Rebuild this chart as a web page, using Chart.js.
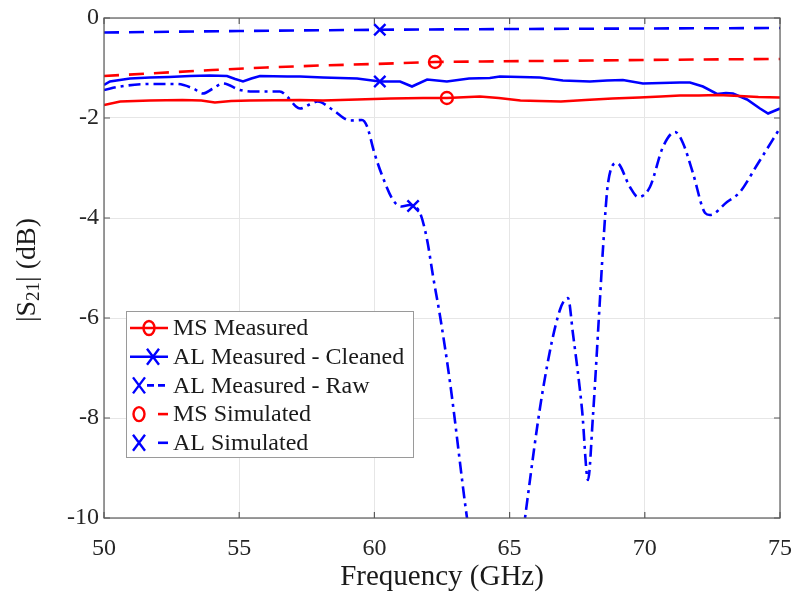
<!DOCTYPE html>
<html><head><meta charset="utf-8">
<script src="https://cdn.jsdelivr.net/npm/chart.js@4/dist/chart.umd.min.js"></script>
<style>html,body{margin:0;padding:0;background:#fff;}#wrap{width:796px;height:592px;position:relative;}</style>
</head><body><div id="wrap"><canvas id="c"></canvas></div>
<script>
// ---------- data ----------
const xTicks = [50, 55, 60, 65, 70, 75];
const yTicks = [0, -2, -4, -6, -8, -10];
const seriesNames = ['MS Measured', 'AL Measured - Cleaned', 'AL Measured - Raw', 'MS Simulated', 'AL Simulated'];

const msMeasFreq = [50, 50.6, 51.7, 52.9, 53.6, 54.1, 54.7, 55.4, 56.3, 57.25, 58.1, 59.36, 60.6, 61.8, 62.68, 63.9, 64.6, 65.4, 66.1, 66.9, 67.8, 68.8, 69.8, 70.6, 71.3, 72.0, 72.7, 73.5, 74.2, 75];
const msMeasVals = [-1.74, -1.67, -1.65, -1.64, -1.65, -1.69, -1.66, -1.65, -1.645, -1.64, -1.65, -1.63, -1.61, -1.6, -1.6, -1.57, -1.6, -1.65, -1.66, -1.67, -1.64, -1.61, -1.59, -1.57, -1.55, -1.55, -1.54, -1.56, -1.58, -1.59];
const msMeasMarker = 62.68;

const alCleanFreq = [50, 50.22, 50.96, 51.7, 52.4, 53.18, 53.92, 54.55, 54.85, 55.14, 55.45, 55.77, 56.77, 57.25, 58.1, 59.36, 60.2, 60.95, 61.39, 61.95, 62.68, 63.5, 64.27, 64.64, 65.4, 66.12, 66.97, 67.97, 68.6, 69.19, 69.93, 70.6, 71.3, 71.67, 72.15, 72.67, 73.0, 73.26, 73.78, 74.26, 74.56, 75];
const alCleanVals = [-1.34, -1.27, -1.21, -1.19, -1.18, -1.16, -1.15, -1.16, -1.22, -1.27, -1.21, -1.16, -1.17, -1.17, -1.19, -1.21, -1.27, -1.27, -1.37, -1.23, -1.27, -1.21, -1.2, -1.17, -1.18, -1.19, -1.25, -1.27, -1.25, -1.24, -1.31, -1.3, -1.29, -1.29, -1.37, -1.52, -1.5, -1.51, -1.63, -1.81, -1.91, -1.81];
const alCleanMarker = 60.2;

const alRawFreq = [50, 50.6, 51.7, 52.7, 53.3, 53.66, 54.0, 54.4, 55.03, 55.5, 56.1, 56.5, 56.77, 57.1, 57.25, 57.6, 57.9, 58.47, 59.1, 59.54, 59.73, 60.0, 60.3, 60.69, 61.0, 61.3, 61.43, 61.69, 61.95, 62.17, 62.43, 62.8, 63.42, 64.0, 64.5, 65.0, 65.57, 66.23, 66.86, 67.16, 67.34, 67.68, 67.9, 68.08, 68.34, 68.45, 68.64, 68.97, 69.45, 69.75, 70.19, 70.67, 71.12, 71.41, 71.78, 72.23, 72.41, 73.04, 73.52, 74.15, 75];
const alRawVals = [-1.44, -1.37, -1.32, -1.32, -1.41, -1.51, -1.42, -1.31, -1.44, -1.47, -1.47, -1.47, -1.57, -1.77, -1.81, -1.73, -1.67, -1.84, -2.05, -2.04, -2.17, -2.7, -3.17, -3.64, -3.77, -3.74, -3.76, -3.9, -4.44, -5.17, -5.97, -7.3, -9.98, -12, -13, -12.5, -10, -7.44, -5.84, -5.6, -6.3, -7.84, -9.24, -7.98, -5.64, -4.64, -3.3, -2.9, -3.38, -3.58, -3.38, -2.58, -2.28, -2.5, -3.1, -3.9, -3.94, -3.68, -3.48, -2.94, -2.2];
const alRawMarker = 61.43;

const msSimFreq = [50, 52, 54, 56, 58, 60, 62.24, 64, 66, 68, 70, 72, 75];
const msSimVals = [-1.16, -1.1, -1.04, -0.99, -0.95, -0.92, -0.88, -0.87, -0.86, -0.85, -0.84, -0.83, -0.82];
const msSimMarker = 62.24;

const alSimFreq = [50, 55, 60.2, 65, 70, 75];
const alSimVals = [-0.29, -0.26, -0.235, -0.22, -0.21, -0.2];
const alSimMarker = 60.2;

// ---------- styling ----------
const RED = '#ff0000', BLUE = '#0000ff';
const SERIF = '"Liberation Serif", "Times New Roman", serif';
const pts = (f, v) => f.map((x, i) => ({ x: x, y: v[i] }));
const markerAt = (m, r) => (c) => (c.raw && c.raw.x === m ? r : 0);

function ds(label, f, v, color, dash, marker, style, r, extra) {
  return Object.assign({
    label: label, data: pts(f, v), borderColor: color, borderWidth: 2.6,
    borderDash: dash, fill: false, tension: 0,
    pointStyle: style, pointRadius: markerAt(marker, r), pointHoverRadius: 0,
    pointBorderColor: color, pointBackgroundColor: 'rgba(0,0,0,0)', pointBorderWidth: 2.4
  }, extra || {});
}

const datasets = [
  ds(seriesNames[4], alSimFreq, alSimVals, BLUE, [15, 10], alSimMarker, 'crossRot', 8),
  ds(seriesNames[3], msSimFreq, msSimVals, RED, [15, 10], msSimMarker, 'circle', 6),
  ds(seriesNames[0], msMeasFreq, msMeasVals, RED, [], msMeasMarker, 'circle', 6),
  ds(seriesNames[1], alCleanFreq, alCleanVals, BLUE, [], alCleanMarker, 'crossRot', 8),
  ds(seriesNames[2], alRawFreq, alRawVals, BLUE, [12, 5, 3, 5], alRawMarker, 'crossRot', 8, { cubicInterpolationMode: 'monotone' })
];

// ---------- plugins ----------
const framePlugin = {
  id: 'frame',
  afterDatasetsDraw(chart) {
    const { ctx, chartArea: a, scales } = chart;
    ctx.save();
    ctx.strokeStyle = '#5a5a5a';
    ctx.lineWidth = 1.2;
    ctx.strokeRect(a.left, a.top, a.right - a.left, a.bottom - a.top);
    const tl = 6;
    ctx.beginPath();
    xTicks.forEach(v => {
      const px = scales.x.getPixelForValue(v);
      ctx.moveTo(px, a.bottom); ctx.lineTo(px, a.bottom - tl);
      ctx.moveTo(px, a.top); ctx.lineTo(px, a.top + tl);
    });
    yTicks.forEach(v => {
      const py = scales.y.getPixelForValue(v);
      ctx.moveTo(a.left, py); ctx.lineTo(a.left + tl, py);
      ctx.moveTo(a.right, py); ctx.lineTo(a.right - tl, py);
    });
    ctx.stroke();
    ctx.restore();
  }
};

function drawX(ctx, x, y, color) {
  ctx.save(); ctx.strokeStyle = color; ctx.lineWidth = 2.4; ctx.setLineDash([]);
  ctx.beginPath();
  ctx.moveTo(x - 6, y - 8); ctx.lineTo(x + 6, y + 8);
  ctx.moveTo(x + 6, y - 8); ctx.lineTo(x - 6, y + 8);
  ctx.stroke(); ctx.restore();
}
function drawO(ctx, x, y, color) {
  ctx.save(); ctx.strokeStyle = color; ctx.lineWidth = 2.4; ctx.setLineDash([]);
  ctx.beginPath(); ctx.ellipse(x, y, 5.5, 7, 0, 0, Math.PI * 2); ctx.stroke(); ctx.restore();
}
function seg(ctx, x1, x2, y, color, dash) {
  ctx.save(); ctx.strokeStyle = color; ctx.lineWidth = 2.6; ctx.setLineDash(dash);
  ctx.beginPath(); ctx.moveTo(x1, y); ctx.lineTo(x2, y); ctx.stroke(); ctx.restore();
}

const legendPlugin = {
  id: 'matlabLegend',
  afterDraw(chart) {
    const { ctx, chartArea: a } = chart;
    const x0 = a.left + 22, y0 = a.top + 293, w = 287, h = 146;
    ctx.save();
    ctx.fillStyle = '#ffffff';
    ctx.fillRect(x0, y0, w, h);
    ctx.strokeStyle = '#9a9a9a'; ctx.lineWidth = 1;
    ctx.strokeRect(x0 + 0.5, y0 + 0.5, w, h);
    const rowY = i => y0 + 17 + i * 28.7;
    seg(ctx, x0 + 4, x0 + 42, rowY(0), RED, []); drawO(ctx, x0 + 23, rowY(0), RED);
    seg(ctx, x0 + 4, x0 + 42, rowY(1), BLUE, []); drawX(ctx, x0 + 27, rowY(1), BLUE);
    drawX(ctx, x0 + 13, rowY(2), BLUE); seg(ctx, x0 + 21, x0 + 42, rowY(2), BLUE, [7, 4]);
    drawO(ctx, x0 + 13, rowY(3), RED); seg(ctx, x0 + 32, x0 + 42, rowY(3), RED, []);
    drawX(ctx, x0 + 13, rowY(4), BLUE); seg(ctx, x0 + 32, x0 + 42, rowY(4), BLUE, []);
    ctx.fillStyle = '#1a1a1a';
    ctx.font = '24px ' + SERIF;
    ctx.textBaseline = 'middle'; ctx.textAlign = 'left';
    seriesNames.forEach((n, i) => ctx.fillText(n, x0 + 47, rowY(i) + 1));
    ctx.restore();
  }
};

const yTitlePlugin = {
  id: 'yTitle',
  afterDraw(chart) {
    const { ctx, chartArea: a } = chart;
    const cy = (a.top + a.bottom) / 2 + 2;
    ctx.save();
    ctx.translate(28, cy);
    ctx.rotate(-Math.PI / 2);
    ctx.fillStyle = '#1a1a1a';
    ctx.textBaseline = 'middle';
    const big = '28px ' + SERIF, small = '19px ' + SERIF;
    const parts = [['|S', big, 0], ['21', small, 6], ['| (dB)', big, 0]];
    let total = 0;
    parts.forEach(p => { ctx.font = p[1]; total += ctx.measureText(p[0]).width; });
    let x = -total / 2;
    parts.forEach(p => { ctx.font = p[1]; ctx.fillText(p[0], x, p[2]); x += ctx.measureText(p[0]).width; });
    ctx.restore();
  }
};

new Chart(document.getElementById('c'), {
  type: 'line',
  data: { datasets: datasets },
  options: {
    responsive: true, maintainAspectRatio: false, animation: false,
    layout: { padding: { top: 18, right: 16, left: 0, bottom: 0 } },
    plugins: { legend: { display: false }, tooltip: { enabled: false } },
    scales: {
      x: {
        type: 'linear', min: 50, max: 75,
        afterBuildTicks: s => { s.ticks = xTicks.map(v => ({ value: v })); },
        afterFit: s => { s.height = 74; s.paddingLeft = 0; s.paddingRight = 0; },
        ticks: { font: { family: SERIF, size: 24 }, color: '#262626', padding: 16, maxRotation: 0, autoSkip: false },
        grid: { color: '#e6e6e6', drawTicks: false, lineWidth: 1 },
        border: { display: false },
        title: { display: true, text: 'Frequency (GHz)', font: { family: SERIF, size: 29, lineHeight: 1 }, color: '#1a1a1a', padding: { top: 0, bottom: 0 } }
      },
      y: {
        type: 'linear', min: -10, max: 0,
        afterBuildTicks: s => { s.ticks = yTicks.map(v => ({ value: v })); },
        afterFit: s => { s.width = 104; s.paddingTop = 0; s.paddingBottom = 0; },
        ticks: { font: { family: SERIF, size: 24 }, color: '#262626', padding: 5, autoSkip: false },
        grid: { color: '#e6e6e6', drawTicks: false, lineWidth: 1 },
        border: { display: false }
      }
    }
  },
  plugins: [framePlugin, legendPlugin, yTitlePlugin]
});
</script>
</body></html>
